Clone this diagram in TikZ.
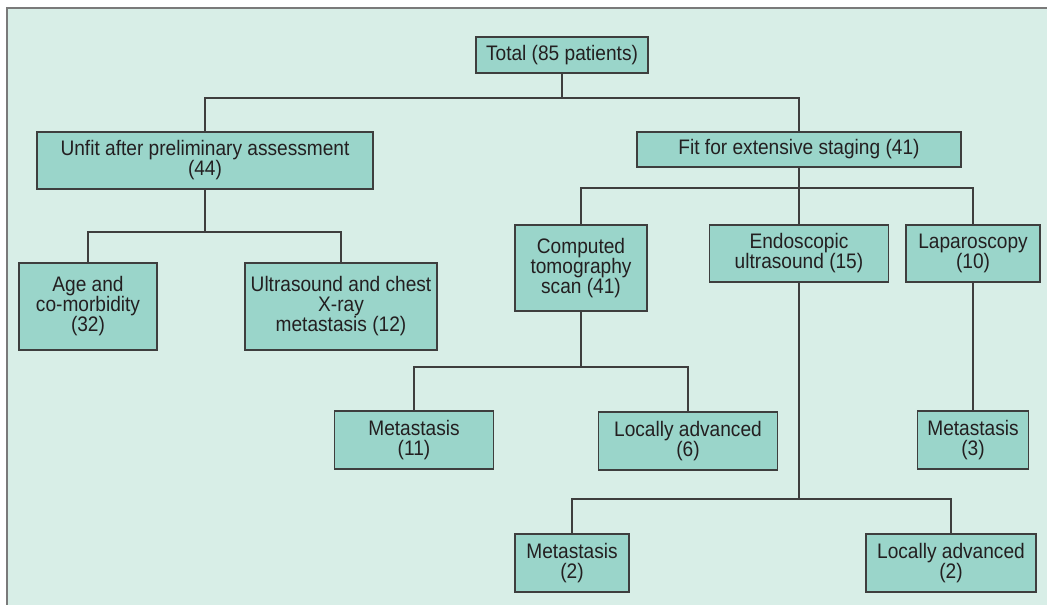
\documentclass[tikz,border=0pt]{standalone}
\usepackage{fontspec}
\setmainfont{Liberation Sans}[FakeStretch=0.91]
\definecolor{panel}{HTML}{D8EEE7}
\definecolor{boxc}{HTML}{9AD5CA}
\definecolor{bordc}{HTML}{3E3E3E}
\definecolor{panelb}{HTML}{7A7A7A}
\definecolor{txt}{HTML}{231F20}
\begin{document}
\begin{tikzpicture}[x=1pt,y=-1pt,
  box/.style={draw=bordc, fill=boxc, line width=1.2pt, inner sep=0pt, align=center,
    text=txt, font=\fontsize{21}{20}\selectfont},
  conn/.style={draw=bordc, line width=1.2pt}]
\useasboundingbox (0,0) rectangle (1047,605);
\fill[white] (0,0) rectangle (1047,605);
\fill[panel] (7,8) rectangle (1047,605);
\draw[panelb, line width=1.2pt] (7,605) -- (7,8) -- (1047,8);
% bus levels
\coordinate (b1) at (0,98);
\coordinate (b2) at (0,232);
\coordinate (b3) at (0,188);
\coordinate (b4) at (0,367);
\coordinate (b5) at (0,499);
% nodes
\node[box, minimum width=172pt, minimum height=36pt] (total) at (562,55) {Total (85 patients)};
\node[box, minimum width=336pt, minimum height=57pt] (unfit) at (205,160.5) {Unfit after preliminary assessment\\(44)};
\node[box, minimum width=324pt, minimum height=35pt] (fit) at (799,149.5) {Fit for extensive staging (41)};
\node[box, minimum width=138pt, minimum height=87pt] (age) at (88,306.5) {Age and\\co-morbidity\\(32)};
\node[box, minimum width=192pt, minimum height=87pt] (us) at (341,306.5) {Ultrasound and chest\\X-ray\\metastasis (12)};
\node[box, minimum width=132pt, minimum height=86pt] (ct) at (581,268) {Computed\\tomography\\scan (41)};
\node[box, minimum width=179pt, minimum height=57pt] (eus) at (799,253.5) {Endoscopic\\ultrasound (15)};
\node[box, minimum width=134pt, minimum height=57pt] (lap) at (973,253.5) {Laparoscopy\\(10)};
\node[box, minimum width=159pt, minimum height=58pt] (m11) at (414,440) {Metastasis\\(11)};
\node[box, minimum width=179pt, minimum height=58pt] (la6) at (688,441) {Locally advanced\\(6)};
\node[box, minimum width=111pt, minimum height=58pt] (m3) at (973,440) {Metastasis\\(3)};
\node[box, minimum width=114pt, minimum height=58pt] (m2) at (572,563) {Metastasis\\(2)};
\node[box, minimum width=170pt, minimum height=58pt] (la2) at (951,563) {Locally advanced\\(2)};
% connectors
\draw[conn] (total.south) -- (total.south |- b1);
\draw[conn] (unfit.north) |- (fit.north |- b1) -- (fit.north);
\draw[conn] (unfit.south) -- (unfit.south |- b2);
\draw[conn] (age.north) |- (us.north |- b2) -- (us.north);
\draw[conn] (fit.south) -- (fit.south |- b3);
\draw[conn] (ct.north) |- (lap.north |- b3) -- (lap.north);
\draw[conn] (eus.north) -- (eus.north |- b3);
\draw[conn] (ct.south) -- (ct.south |- b4);
\draw[conn] (m11.north) |- (la6.north |- b4) -- (la6.north);
\draw[conn] (eus.south) -- (eus.south |- b5);
\draw[conn] (m2.north) |- (la2.north |- b5) -- (la2.north);
\draw[conn] (lap.south) -- (m3.north);
\end{tikzpicture}
\end{document}
